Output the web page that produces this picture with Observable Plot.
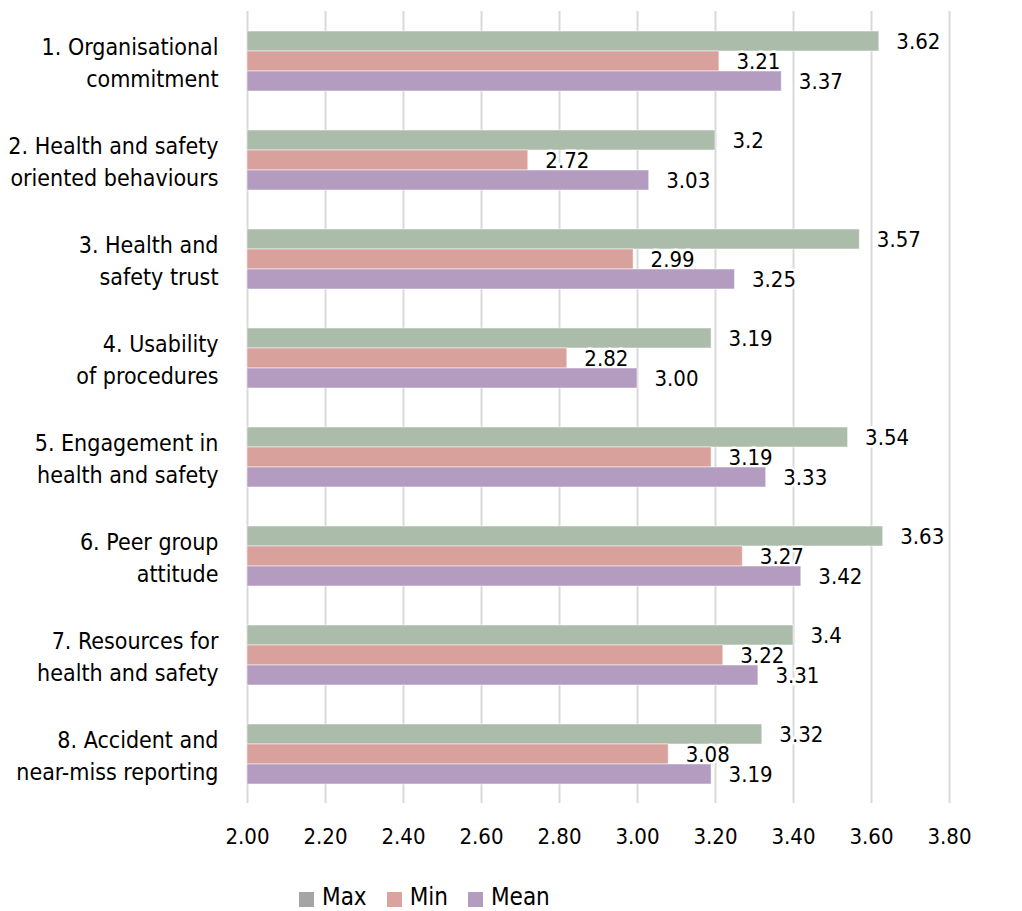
<!DOCTYPE html>
<html>
<head>
<meta charset="utf-8">
<script src="https://cdn.jsdelivr.net/npm/d3@7"></script>
<script src="https://cdn.jsdelivr.net/npm/@observablehq/plot@0.6"></script>
<style>
  html, body { margin: 0; padding: 0; background: #fff; }
  body { font-family: "Liberation Sans Narrow", "DejaVu Sans Condensed", "Arial Narrow", sans-serif; color: #000; }
  #chart svg { display: block; }
  #legend { display: flex; align-items: center; height: 30px; margin-top: 22px; padding-left: 299px; font-size: 24px; }
  .item { display: flex; align-items: center; margin-right: 20px; }
  .sw { width: 15px; height: 15px; margin-right: 8px; margin-top: 4px; }
</style>
</head>
<body>
<div id="chart"></div>
<div id="legend"></div>
<script>
const categories = [
  "1. Organisational\ncommitment",
  "2. Health and safety\noriented behaviours",
  "3. Health and\nsafety trust",
  "4. Usability\nof procedures",
  "5. Engagement in\nhealth and safety",
  "6. Peer group\nattitude",
  "7. Resources for\nhealth and safety",
  "8. Accident and\nnear-miss reporting"
];
const seriesNames = ["Max", "Min", "Mean"];
const maxValues  = [3.62, 3.2, 3.57, 3.19, 3.54, 3.63, 3.4, 3.32];
const minValues  = [3.21, 2.72, 2.99, 2.82, 3.19, 3.27, 3.22, 3.08];
const meanValues = [3.37, 3.03, 3.25, 3.00, 3.33, 3.42, 3.31, 3.19];
const maxLabels  = ["3.62", "3.2", "3.57", "3.19", "3.54", "3.63", "3.4", "3.32"];
const minLabels  = ["3.21", "2.72", "2.99", "2.82", "3.19", "3.27", "3.22", "3.08"];
const meanLabels = ["3.37", "3.03", "3.25", "3.00", "3.33", "3.42", "3.31", "3.19"];
const xTicks = [2.0, 2.2, 2.4, 2.6, 2.8, 3.0, 3.2, 3.4, 3.6, 3.8];
const barColors = ["#abbdaa", "#d9a19c", "#b39cc0"];
const legendColors = ["#a5a5a5", "#dca39e", "#b39cc0"];

const valueSets = [maxValues, minValues, meanValues];
const labelSets = [maxLabels, minLabels, meanLabels];
const rows = seriesNames.map((s, si) => categories.map((c, i) => ({
  category: c, series: s, value: valueSets[si][i], label: labelSets[si][i]
})));
const baseline = xTicks[0];

const marks = [
  Plot.gridX(xTicks, {stroke: "#d9d9d9", strokeOpacity: 1, strokeWidth: 2}),
  Plot.axisX(xTicks, {tickSize: 0, tickPadding: 25, tickFormat: d3.format(".2f"), fontSize: 22, label: null}),
  Plot.text(categories, {fy: d => d, text: d => d, frameAnchor: "left", dx: -29, textAnchor: "end", lineHeight: 1.36, fontSize: 23, fill: "#000"})
];
seriesNames.forEach((s, si) => {
  marks.push(Plot.barX(rows[si], {fy: "category", y: "series", x1: () => baseline, x2: "value",
    fill: barColors[si], stroke: "#ffffff", strokeOpacity: 0.5, strokeWidth: 1}));
  marks.push(Plot.text(rows[si], {fy: "category", y: "series", x: "value", text: "label",
    textAnchor: "start", dx: 17, fontSize: 22, fill: "#000", stroke: "white", strokeWidth: 5, paintOrder: "stroke"}));
});

const chart = Plot.plot({
  width: 1022,
  height: 860,
  marginLeft: 247,
  marginRight: 73,
  marginTop: 8,
  marginBottom: 54,
  style: {fontFamily: '"Liberation Sans Narrow", "DejaVu Sans Condensed", "Arial Narrow", sans-serif', fontSize: "22px", color: "#000", background: "#fff"},
  x: {domain: [xTicks[0], xTicks[xTicks.length - 1]], axis: null},
  y: {domain: seriesNames, axis: null, paddingInner: 0, paddingOuter: 0.9525},
  fy: {domain: categories, axis: null, padding: 0},
  marks
});
document.getElementById("chart").appendChild(chart);

const legend = document.getElementById("legend");
seriesNames.forEach((s, i) => {
  const item = document.createElement("div");
  item.className = "item";
  const sw = document.createElement("div");
  sw.className = "sw";
  sw.style.background = legendColors[i];
  const t = document.createElement("span");
  t.textContent = s;
  item.appendChild(sw);
  item.appendChild(t);
  legend.appendChild(item);
});
</script>
</body>
</html>
